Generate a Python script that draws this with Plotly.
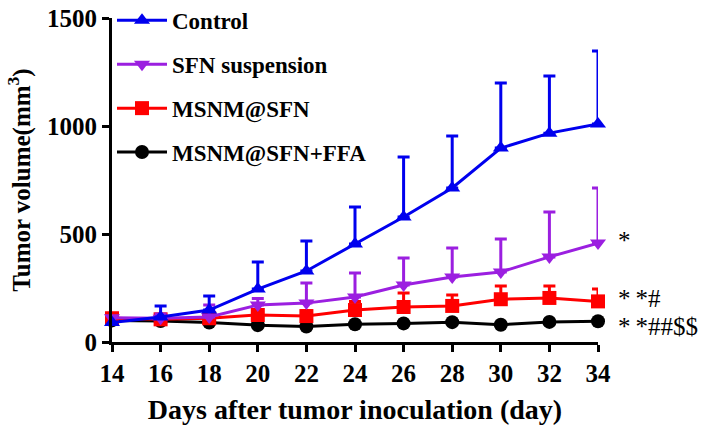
import plotly.graph_objects as go

days = [14, 16, 18, 20, 22, 24, 26, 28, 30, 32, 34]
series_names = ["Control", "SFN suspension", "MSNM@SFN", "MSNM@SFN+FFA"]
control = [90, 116, 148, 245, 329, 454, 579, 713, 898, 967, 1009]
control_err = [0, 51, 65, 125, 139, 171, 277, 241, 301, 264, 338]
sfn = [112, 110, 116, 171, 180, 208, 264, 301, 324, 394, 458]
sfn_err = [0, 20, 55, 30, 93, 111, 125, 134, 153, 208, 255]
msnm = [110, 105, 110, 125, 120, 148, 162, 167, 198, 204, 188]
msnm_err = [0, 10, 15, 20, 25, 40, 65, 51, 61, 55, 57]
ffa = [100, 97, 90, 78, 72, 82, 86, 92, 80, 93, 96]
ffa_err = [0, 0, 0, 0, 0, 0, 0, 0, 0, 0, 0]
sig_labels = ["*", "*\u2009*#", "*\u2009*##$$"]
sig_y = [480, 210, 80]

colors = ["#0000ee", "#9b1fe0", "#ff0000", "#000000"]
symbols = ["triangle-up", "triangle-down", "square", "circle"]
values = [control, sfn, msnm, ffa]
errs = [control_err, sfn_err, msnm_err, ffa_err]

font_family = "Liberation Serif, Times New Roman, serif"

fig = go.Figure()
for i in reversed(range(4)):
    fig.add_trace(go.Scatter(
        x=days, y=values[i], name=series_names[i], mode="lines+markers",
        legendgroup=series_names[i], legendrank=i + 1,
        line=dict(color=colors[i], width=3),
        marker=dict(symbol=symbols[i], size=14, color=colors[i]),
        error_y=dict(type="data", array=errs[i], arrayminus=[0] * len(days),
                     symmetric=False, color=colors[i], thickness=3, width=6,
                     visible=any(errs[i])),
        cliponaxis=False,
    ))

for lab, yv in zip(sig_labels, sig_y):
    fig.add_annotation(x=34, y=yv, xref="x", yref="y", text=lab, showarrow=False,
                       xanchor="left", xshift=18, yshift=-2,
                       font=dict(family=font_family, size=25, color="black"))

fig.update_layout(
    width=708, height=427,
    margin=dict(l=112, r=110, t=18, b=85, autoexpand=False),
    paper_bgcolor="white", plot_bgcolor="white",
    font=dict(family=font_family, color="black"),
    showlegend=True,
    legend=dict(x=0.0, y=1.059, xanchor="left", yanchor="top",
                font=dict(family=font_family, size=23, color="black", weight="bold"),
                tracegroupgap=11, bgcolor="rgba(0,0,0,0)", itemwidth=50),
    xaxis=dict(range=[14, 34], tickvals=days, showline=True, linecolor="black",
               linewidth=3, ticks="outside", ticklen=7, tickwidth=3,
               tickcolor="black", showgrid=False, zeroline=False, automargin=False,
               tickfont=dict(family=font_family, size=25, weight="bold"),
               title=dict(text="Days after tumor inoculation (day)", standoff=14,
                          font=dict(family=font_family, size=28, weight="bold"))),
    yaxis=dict(range=[0, 1500], tickvals=[0, 500, 1000, 1500], showline=True,
               linecolor="black", linewidth=3, ticks="outside", ticklen=7,
               tickwidth=3, tickcolor="black", showgrid=False, zeroline=False,
               automargin=False,
               tickfont=dict(family=font_family, size=25, weight="bold"),
               title=dict(text="Tumor volume(mm<sup>3</sup>)", standoff=10,
                          font=dict(family=font_family, size=25, weight="bold"))),
)

fig.write_html("out.html", config={"displayModeBar": False},
               post_script="document.body.style.margin='0';document.body.style.overflow='hidden';")
